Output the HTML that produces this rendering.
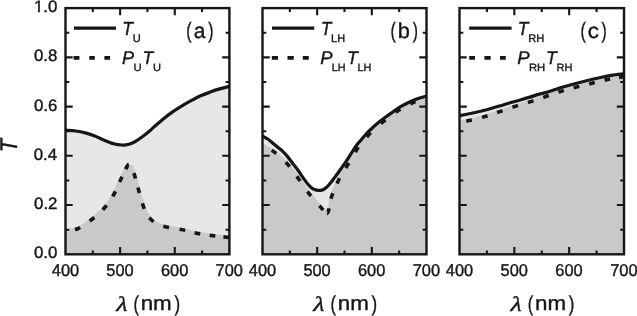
<!DOCTYPE html>
<html><head><meta charset="utf-8"><title>Transmission spectra</title>
<style>
html,body{margin:0;padding:0;background:#fff;}
svg{display:block;}
text{font-family:"Liberation Sans",Arial,sans-serif;fill:#161616;stroke:#161616;stroke-width:0.4;text-rendering:geometricPrecision;font-variant-ligatures:none;}
.it{font-style:italic;}
.lam{font-family:"Liberation Serif","Times New Roman",serif;font-style:italic;}
</style></head><body>
<svg width="637" height="316" viewBox="0 0 637 316">
<rect width="637" height="316" fill="#fff"/>
<path d="M65.50,130.20 C67.22,130.33 72.50,130.55 75.80,131.00 C79.10,131.45 82.13,132.05 85.30,132.90 C88.47,133.75 91.63,134.88 94.80,136.10 C97.97,137.32 101.13,138.93 104.30,140.20 C107.47,141.47 110.90,142.90 113.80,143.70 C116.70,144.50 119.33,144.87 121.70,145.00 C124.07,145.13 125.88,145.00 128.00,144.50 C130.12,144.00 132.02,143.30 134.40,142.00 C136.78,140.70 139.67,138.63 142.30,136.70 C144.93,134.77 148.13,132.13 150.20,130.40 C152.27,128.67 152.62,128.13 154.70,126.30 C156.78,124.47 159.78,121.77 162.70,119.40 C165.62,117.03 169.05,114.32 172.20,112.10 C175.35,109.88 178.45,108.00 181.60,106.10 C184.75,104.20 187.93,102.42 191.10,100.70 C194.27,98.98 197.43,97.23 200.60,95.80 C203.77,94.37 206.93,93.25 210.10,92.10 C213.27,90.95 216.38,89.85 219.60,88.90 C222.82,87.95 227.77,86.82 229.40,86.40 L229.40,254.3 L65.50,254.3 Z" fill="#e6e7e8"/>
<clipPath id="cp0"><path d="M65.50,130.20 C67.22,130.33 72.50,130.55 75.80,131.00 C79.10,131.45 82.13,132.05 85.30,132.90 C88.47,133.75 91.63,134.88 94.80,136.10 C97.97,137.32 101.13,138.93 104.30,140.20 C107.47,141.47 110.90,142.90 113.80,143.70 C116.70,144.50 119.33,144.87 121.70,145.00 C124.07,145.13 125.88,145.00 128.00,144.50 C130.12,144.00 132.02,143.30 134.40,142.00 C136.78,140.70 139.67,138.63 142.30,136.70 C144.93,134.77 148.13,132.13 150.20,130.40 C152.27,128.67 152.62,128.13 154.70,126.30 C156.78,124.47 159.78,121.77 162.70,119.40 C165.62,117.03 169.05,114.32 172.20,112.10 C175.35,109.88 178.45,108.00 181.60,106.10 C184.75,104.20 187.93,102.42 191.10,100.70 C194.27,98.98 197.43,97.23 200.60,95.80 C203.77,94.37 206.93,93.25 210.10,92.10 C213.27,90.95 216.38,89.85 219.60,88.90 C222.82,87.95 227.77,86.82 229.40,86.40 L229.40,254.3 L65.50,254.3 Z"/></clipPath>
<path d="M65.50,229.42 C66.29,229.31 68.67,229.01 70.23,228.73 C71.79,228.46 73.37,228.24 74.86,227.79 C76.36,227.33 77.77,226.72 79.18,226.00 C80.60,225.27 82.04,224.32 83.37,223.44 C84.70,222.56 85.87,221.70 87.19,220.73 C88.51,219.75 89.98,218.62 91.29,217.59 C92.60,216.55 93.83,215.56 95.05,214.52 C96.26,213.48 97.44,212.44 98.58,211.35 C99.72,210.26 100.82,209.16 101.89,207.99 C102.96,206.83 103.99,205.62 104.99,204.36 C105.99,203.10 106.97,201.77 107.90,200.44 C108.83,199.10 109.74,197.72 110.59,196.35 C111.44,194.98 112.25,193.65 113.01,192.22 C113.76,190.79 114.47,189.28 115.15,187.79 C115.83,186.31 116.40,184.86 117.08,183.31 C117.77,181.75 118.55,179.96 119.23,178.46 C119.91,176.95 120.47,175.74 121.17,174.27 C121.86,172.81 122.64,171.20 123.40,169.68 C124.15,168.17 124.24,165.94 125.70,165.17 C127.17,164.40 130.70,164.28 132.18,165.05 C133.67,165.83 133.90,168.19 134.59,169.83 C135.29,171.46 135.83,173.25 136.34,174.86 C136.85,176.46 137.21,177.88 137.64,179.44 C138.06,180.99 138.46,182.60 138.89,184.19 C139.31,185.78 139.74,187.38 140.19,189.00 C140.63,190.62 141.12,192.32 141.57,193.90 C142.02,195.48 142.41,196.92 142.87,198.47 C143.32,200.03 143.78,201.64 144.28,203.22 C144.79,204.79 145.31,206.42 145.90,207.93 C146.49,209.44 147.09,210.92 147.82,212.28 C148.55,213.64 149.32,214.93 150.27,216.09 C151.22,217.25 152.30,218.25 153.50,219.23 C154.69,220.21 156.09,221.20 157.44,221.97 C158.79,222.74 160.15,223.34 161.60,223.85 C163.04,224.36 164.54,224.70 166.11,225.06 C167.68,225.41 169.37,225.70 171.00,225.98 C172.62,226.27 174.22,226.49 175.85,226.76 C177.49,227.04 179.13,227.29 180.81,227.63 C182.50,227.96 184.35,228.40 185.96,228.78 C187.57,229.16 188.89,229.54 190.47,229.93 C192.06,230.32 193.86,230.78 195.45,231.12 C197.03,231.47 198.38,231.71 199.99,231.99 C201.60,232.27 203.48,232.56 205.12,232.80 C206.76,233.05 208.23,233.24 209.85,233.46 C211.47,233.68 213.15,233.90 214.84,234.11 C216.53,234.31 218.30,234.51 219.98,234.70 C221.67,234.89 223.43,235.07 224.96,235.24 C226.50,235.40 228.49,235.63 229.20,235.71 L229.40,254.3 L65.50,254.3 Z" fill="#c8c9cb" clip-path="url(#cp0)"/>
<path id="d0" d="M65.50,231.20 C67.62,230.75 73.72,230.53 78.20,228.50 C82.68,226.47 88.05,222.42 92.40,219.00 C96.75,215.58 100.73,212.08 104.30,208.00 C107.87,203.92 111.10,199.17 113.80,194.50 C116.50,189.83 118.63,184.00 120.50,180.00 C122.37,176.00 123.65,173.08 125.00,170.50 C126.35,167.92 127.52,165.00 128.60,164.50 C129.68,164.00 130.52,165.75 131.50,167.50 C132.48,169.25 133.32,171.25 134.50,175.00 C135.68,178.75 137.13,184.83 138.60,190.00 C140.07,195.17 141.90,201.92 143.30,206.00 C144.70,210.08 145.65,212.20 147.00,214.50 C148.35,216.80 149.57,218.17 151.40,219.80 C153.23,221.43 155.55,223.12 158.00,224.30 C160.45,225.48 162.18,226.02 166.10,226.90 C170.02,227.78 176.42,228.55 181.50,229.60 C186.58,230.65 191.47,232.20 196.60,233.20 C201.73,234.20 206.87,234.88 212.30,235.60 C217.73,236.32 226.38,237.18 229.20,237.50" fill="none" stroke="#161616" stroke-width="3.6" stroke-dasharray="0 9.64 5.8 11.26 5.8 11.53 5.8 10.73 5.8 10.08 5.8 8.51 5.8 10.45 5.8 8.93 5.8 10.44 5.8 10.61 5.8 10.99 5.8 10.36 5.8 9.73 5.8 9.56 5.8 7.86 5.8 1000"/>
<path d="M65.50,130.20 C67.22,130.33 72.50,130.55 75.80,131.00 C79.10,131.45 82.13,132.05 85.30,132.90 C88.47,133.75 91.63,134.88 94.80,136.10 C97.97,137.32 101.13,138.93 104.30,140.20 C107.47,141.47 110.90,142.90 113.80,143.70 C116.70,144.50 119.33,144.87 121.70,145.00 C124.07,145.13 125.88,145.00 128.00,144.50 C130.12,144.00 132.02,143.30 134.40,142.00 C136.78,140.70 139.67,138.63 142.30,136.70 C144.93,134.77 148.13,132.13 150.20,130.40 C152.27,128.67 152.62,128.13 154.70,126.30 C156.78,124.47 159.78,121.77 162.70,119.40 C165.62,117.03 169.05,114.32 172.20,112.10 C175.35,109.88 178.45,108.00 181.60,106.10 C184.75,104.20 187.93,102.42 191.10,100.70 C194.27,98.98 197.43,97.23 200.60,95.80 C203.77,94.37 206.93,93.25 210.10,92.10 C213.27,90.95 216.38,89.85 219.60,88.90 C222.82,87.95 227.77,86.82 229.40,86.40" fill="none" stroke="#161616" stroke-width="3.2"/>
<path d="M92.82,254.3v-3.8M92.82,8.1v3.8M120.13,254.3v-7.2M120.13,8.1v7.2M147.45,254.3v-3.8M147.45,8.1v3.8M174.77,254.3v-7.2M174.77,8.1v7.2M202.08,254.3v-3.8M202.08,8.1v3.8M65.50,229.68h3.8M229.40,229.68h-3.8M65.50,205.06h7.2M229.40,205.06h-7.2M65.50,180.44h3.8M229.40,180.44h-3.8M65.50,155.82h7.2M229.40,155.82h-7.2M65.50,131.20h3.8M229.40,131.20h-3.8M65.50,106.58h7.2M229.40,106.58h-7.2M65.50,81.96h3.8M229.40,81.96h-3.8M65.50,57.34h7.2M229.40,57.34h-7.2M65.50,32.72h3.8M229.40,32.72h-3.8" fill="none" stroke="#161616" stroke-width="2.1"/>
<rect x="65.50" y="8.1" width="163.90" height="246.20" fill="none" stroke="#161616" stroke-width="2.4"/>
<path d="M262.50,136.00 C263.37,136.50 266.20,138.00 267.70,139.00 C269.20,140.00 269.67,140.50 271.50,142.00 C273.33,143.50 276.97,146.57 278.70,148.00 C280.43,149.43 280.42,149.17 281.90,150.60 C283.38,152.03 285.70,154.33 287.60,156.60 C289.50,158.87 291.60,161.97 293.30,164.20 C295.00,166.43 296.42,168.08 297.80,170.00 C299.18,171.92 300.33,173.88 301.60,175.70 C302.87,177.52 304.13,179.23 305.40,180.90 C306.67,182.57 307.93,184.38 309.20,185.70 C310.47,187.02 311.73,188.07 313.00,188.80 C314.27,189.53 315.60,189.83 316.80,190.10 C318.00,190.37 319.08,190.50 320.20,190.40 C321.32,190.30 322.32,190.13 323.50,189.50 C324.68,188.87 326.03,187.80 327.30,186.60 C328.57,185.40 329.83,183.88 331.10,182.30 C332.37,180.72 333.63,178.82 334.90,177.10 C336.17,175.38 336.75,174.74 338.70,172.01 C340.65,169.28 344.42,163.96 346.60,160.71 C348.78,157.46 349.98,155.29 351.80,152.50 C353.62,149.71 356.07,145.95 357.50,143.99 C358.93,142.03 358.97,142.40 360.40,140.74 C361.83,139.07 364.03,136.22 366.10,134.01 C368.17,131.80 370.58,129.52 372.80,127.49 C375.02,125.46 377.20,123.61 379.40,121.83 C381.60,120.05 383.82,118.42 386.00,116.82 C388.18,115.21 390.33,113.72 392.50,112.18 C394.67,110.64 396.82,108.95 399.00,107.58 C401.18,106.21 403.38,105.11 405.60,103.97 C407.82,102.83 410.08,101.73 412.30,100.76 C414.52,99.79 416.53,98.92 418.90,98.15 C421.27,97.37 425.23,96.44 426.50,96.10 L426.50,254.3 L262.50,254.3 Z" fill="#e6e7e8"/>
<clipPath id="cp1"><path d="M262.50,136.00 C263.37,136.50 266.20,138.00 267.70,139.00 C269.20,140.00 269.67,140.50 271.50,142.00 C273.33,143.50 276.97,146.57 278.70,148.00 C280.43,149.43 280.42,149.17 281.90,150.60 C283.38,152.03 285.70,154.33 287.60,156.60 C289.50,158.87 291.60,161.97 293.30,164.20 C295.00,166.43 296.42,168.08 297.80,170.00 C299.18,171.92 300.33,173.88 301.60,175.70 C302.87,177.52 304.13,179.23 305.40,180.90 C306.67,182.57 307.93,184.38 309.20,185.70 C310.47,187.02 311.73,188.07 313.00,188.80 C314.27,189.53 315.60,189.83 316.80,190.10 C318.00,190.37 319.08,190.50 320.20,190.40 C321.32,190.30 322.32,190.13 323.50,189.50 C324.68,188.87 326.03,187.80 327.30,186.60 C328.57,185.40 329.83,183.88 331.10,182.30 C332.37,180.72 333.63,178.82 334.90,177.10 C336.17,175.38 336.75,174.74 338.70,172.01 C340.65,169.28 344.42,163.96 346.60,160.71 C348.78,157.46 349.98,155.29 351.80,152.50 C353.62,149.71 356.07,145.95 357.50,143.99 C358.93,142.03 358.97,142.40 360.40,140.74 C361.83,139.07 364.03,136.22 366.10,134.01 C368.17,131.80 370.58,129.52 372.80,127.49 C375.02,125.46 377.20,123.61 379.40,121.83 C381.60,120.05 383.82,118.42 386.00,116.82 C388.18,115.21 390.33,113.72 392.50,112.18 C394.67,110.64 396.82,108.95 399.00,107.58 C401.18,106.21 403.38,105.11 405.60,103.97 C407.82,102.83 410.08,101.73 412.30,100.76 C414.52,99.79 416.53,98.92 418.90,98.15 C421.27,97.37 425.23,96.44 426.50,96.10 L426.50,254.3 L262.50,254.3 Z"/></clipPath>
<path d="M262.50,143.30 C263.50,143.85 266.33,145.33 268.50,146.60 C270.67,147.87 272.07,148.13 275.50,150.90 C278.93,153.67 285.02,158.77 289.10,163.20 C293.18,167.63 296.40,172.60 300.00,177.50 C303.60,182.40 306.95,187.75 310.70,192.60 C314.45,197.45 319.80,203.60 322.50,206.60 C325.20,209.60 325.93,210.62 326.90,210.60 C327.87,210.58 327.77,209.02 328.30,206.50 C328.83,203.98 328.36,200.64 330.10,195.50 C331.84,190.36 336.55,180.17 338.76,175.65 C340.98,171.12 341.82,170.84 343.37,168.36 C344.92,165.88 346.49,163.36 348.07,160.76 C349.64,158.16 351.22,155.38 352.82,152.76 C354.42,150.15 355.89,147.54 357.68,145.08 C359.47,142.63 361.59,140.27 363.54,138.01 C365.48,135.76 367.20,133.72 369.35,131.55 C371.51,129.38 374.15,126.99 376.46,124.98 C378.77,122.97 380.77,121.40 383.23,119.49 C385.68,117.58 388.72,115.37 391.18,113.53 C393.65,111.69 395.53,110.06 398.02,108.45 C400.51,106.85 403.63,105.22 406.13,103.92 C408.64,102.62 410.73,101.65 413.04,100.65 C415.34,99.66 417.72,98.82 419.96,97.97 C422.21,97.13 425.41,96.00 426.50,95.60 L426.50,254.3 L262.50,254.3 Z" fill="#c8c9cb" clip-path="url(#cp1)"/>
<path id="d1" d="M262.50,145.00 C264.43,146.15 269.90,148.67 274.10,151.90 C278.30,155.13 283.63,159.93 287.70,164.40 C291.77,168.87 294.92,173.80 298.50,178.70 C302.08,183.60 305.43,188.98 309.20,193.80 C312.97,198.62 318.20,204.37 321.10,207.60 C324.00,210.83 325.35,212.72 326.60,213.20 C327.85,213.68 327.73,213.37 328.60,210.50 C329.47,207.63 329.87,201.63 331.80,196.00 C333.73,190.37 338.03,181.16 340.20,176.73 C342.38,172.29 343.28,171.89 344.84,169.39 C346.40,166.90 347.99,164.37 349.57,161.76 C351.15,159.15 352.73,156.35 354.33,153.75 C355.93,151.14 357.38,148.55 359.15,146.12 C360.92,143.69 363.02,141.37 364.93,139.16 C366.84,136.94 368.49,134.97 370.61,132.84 C372.73,130.70 375.35,128.33 377.63,126.35 C379.91,124.36 381.88,122.82 384.31,120.93 C386.74,119.04 389.77,116.83 392.22,115.00 C394.67,113.17 396.57,111.53 399.03,109.95 C401.48,108.37 404.50,106.80 406.95,105.53 C409.41,104.25 411.51,103.28 413.76,102.30 C416.01,101.33 418.34,100.55 420.46,99.65 C422.58,98.75 425.49,97.36 426.50,96.90" fill="none" stroke="#161616" stroke-width="3.6" stroke-dasharray="0 10.61 5.8 12.69 5.8 12.13 5.8 12.71 5.8 12.43 5.8 5.3 5.8 9.88 5.8 10.35 5.8 12.23 5.8 12.58 5.8 13.35 5.8 13.75 5.8 12.64 5.8 11.02 5.8 1000"/>
<path d="M262.50,136.00 C263.37,136.50 266.20,138.00 267.70,139.00 C269.20,140.00 269.67,140.50 271.50,142.00 C273.33,143.50 276.97,146.57 278.70,148.00 C280.43,149.43 280.42,149.17 281.90,150.60 C283.38,152.03 285.70,154.33 287.60,156.60 C289.50,158.87 291.60,161.97 293.30,164.20 C295.00,166.43 296.42,168.08 297.80,170.00 C299.18,171.92 300.33,173.88 301.60,175.70 C302.87,177.52 304.13,179.23 305.40,180.90 C306.67,182.57 307.93,184.38 309.20,185.70 C310.47,187.02 311.73,188.07 313.00,188.80 C314.27,189.53 315.60,189.83 316.80,190.10 C318.00,190.37 319.08,190.50 320.20,190.40 C321.32,190.30 322.32,190.13 323.50,189.50 C324.68,188.87 326.03,187.80 327.30,186.60 C328.57,185.40 329.83,183.88 331.10,182.30 C332.37,180.72 333.63,178.82 334.90,177.10 C336.17,175.38 336.75,174.74 338.70,172.01 C340.65,169.28 344.42,163.96 346.60,160.71 C348.78,157.46 349.98,155.29 351.80,152.50 C353.62,149.71 356.07,145.95 357.50,143.99 C358.93,142.03 358.97,142.40 360.40,140.74 C361.83,139.07 364.03,136.22 366.10,134.01 C368.17,131.80 370.58,129.52 372.80,127.49 C375.02,125.46 377.20,123.61 379.40,121.83 C381.60,120.05 383.82,118.42 386.00,116.82 C388.18,115.21 390.33,113.72 392.50,112.18 C394.67,110.64 396.82,108.95 399.00,107.58 C401.18,106.21 403.38,105.11 405.60,103.97 C407.82,102.83 410.08,101.73 412.30,100.76 C414.52,99.79 416.53,98.92 418.90,98.15 C421.27,97.37 425.23,96.44 426.50,96.10" fill="none" stroke="#161616" stroke-width="3.2"/>
<path d="M289.83,254.3v-3.8M289.83,8.1v3.8M317.17,254.3v-7.2M317.17,8.1v7.2M344.50,254.3v-3.8M344.50,8.1v3.8M371.83,254.3v-7.2M371.83,8.1v7.2M399.17,254.3v-3.8M399.17,8.1v3.8M262.50,229.68h3.8M426.50,229.68h-3.8M262.50,205.06h7.2M426.50,205.06h-7.2M262.50,180.44h3.8M426.50,180.44h-3.8M262.50,155.82h7.2M426.50,155.82h-7.2M262.50,131.20h3.8M426.50,131.20h-3.8M262.50,106.58h7.2M426.50,106.58h-7.2M262.50,81.96h3.8M426.50,81.96h-3.8M262.50,57.34h7.2M426.50,57.34h-7.2M262.50,32.72h3.8M426.50,32.72h-3.8" fill="none" stroke="#161616" stroke-width="2.1"/>
<rect x="262.50" y="8.1" width="164.00" height="246.20" fill="none" stroke="#161616" stroke-width="2.4"/>
<path d="M459.50,115.70 C461.35,115.34 466.92,114.29 470.60,113.51 C474.28,112.73 478.18,111.84 481.60,111.00 C485.02,110.16 487.40,109.55 491.10,108.50 C494.80,107.45 499.57,105.95 503.80,104.70 C508.03,103.45 512.28,102.22 516.50,101.00 C520.72,99.78 525.42,98.50 529.10,97.40 C532.78,96.30 535.50,95.29 538.60,94.40 C541.70,93.51 544.08,93.18 547.70,92.08 C551.32,90.98 556.08,89.11 560.30,87.80 C564.52,86.49 568.78,85.33 573.00,84.20 C577.22,83.07 581.38,82.03 585.60,80.99 C589.82,79.96 594.08,78.94 598.30,77.99 C602.52,77.05 606.62,75.98 610.90,75.30 C615.18,74.62 621.82,74.13 624.00,73.90 L624.00,254.3 L459.50,254.3 Z" fill="#e6e7e8"/>
<clipPath id="cp2"><path d="M459.50,115.70 C461.35,115.34 466.92,114.29 470.60,113.51 C474.28,112.73 478.18,111.84 481.60,111.00 C485.02,110.16 487.40,109.55 491.10,108.50 C494.80,107.45 499.57,105.95 503.80,104.70 C508.03,103.45 512.28,102.22 516.50,101.00 C520.72,99.78 525.42,98.50 529.10,97.40 C532.78,96.30 535.50,95.29 538.60,94.40 C541.70,93.51 544.08,93.18 547.70,92.08 C551.32,90.98 556.08,89.11 560.30,87.80 C564.52,86.49 568.78,85.33 573.00,84.20 C577.22,83.07 581.38,82.03 585.60,80.99 C589.82,79.96 594.08,78.94 598.30,77.99 C602.52,77.05 606.62,75.98 610.90,75.30 C615.18,74.62 621.82,74.13 624.00,73.90 L624.00,254.3 L459.50,254.3 Z"/></clipPath>
<path d="M459.50,120.73 C460.28,120.58 462.53,120.16 464.16,119.83 C465.80,119.50 467.66,119.12 469.32,118.75 C470.99,118.37 472.54,117.98 474.15,117.58 C475.77,117.18 477.39,116.77 479.00,116.35 C480.60,115.92 482.24,115.47 483.78,115.02 C485.33,114.57 486.70,114.14 488.27,113.63 C489.84,113.12 491.55,112.53 493.21,111.96 C494.87,111.39 496.61,110.78 498.21,110.24 C499.81,109.69 501.25,109.21 502.78,108.69 C504.31,108.17 505.86,107.63 507.40,107.11 C508.95,106.58 510.42,106.08 512.06,105.54 C513.70,105.00 515.60,104.38 517.24,103.86 C518.89,103.34 520.36,102.90 521.91,102.43 C523.47,101.95 524.94,101.52 526.56,101.01 C528.19,100.51 530.07,99.91 531.68,99.39 C533.30,98.87 534.75,98.39 536.28,97.88 C537.81,97.38 539.25,96.89 540.85,96.35 C542.46,95.81 544.32,95.18 545.92,94.63 C547.51,94.07 548.83,93.59 550.42,93.01 C552.01,92.44 553.85,91.75 555.45,91.19 C557.06,90.63 558.42,90.15 560.05,89.64 C561.68,89.13 563.59,88.59 565.22,88.14 C566.86,87.69 568.33,87.32 569.87,86.92 C571.42,86.53 572.88,86.17 574.51,85.75 C576.14,85.34 578.03,84.85 579.66,84.43 C581.30,84.01 582.68,83.66 584.32,83.25 C585.96,82.84 587.87,82.37 589.50,81.96 C591.14,81.56 592.51,81.22 594.14,80.82 C595.76,80.41 597.63,79.94 599.26,79.55 C600.89,79.15 602.34,78.80 603.94,78.44 C605.53,78.08 607.18,77.72 608.83,77.39 C610.49,77.06 612.20,76.75 613.86,76.45 C615.52,76.15 617.12,75.86 618.81,75.58 C620.50,75.29 623.14,74.87 624.00,74.73 L624.00,254.3 L459.50,254.3 Z" fill="#c8c9cb" clip-path="url(#cp2)"/>
<path id="d2" d="M459.50,122.50 C461.13,122.18 465.08,121.58 469.30,120.60 C473.52,119.62 479.72,118.10 484.80,116.60 C489.88,115.10 494.73,113.30 499.80,111.60 C504.87,109.90 510.05,108.07 515.20,106.40 C520.35,104.73 525.57,103.25 530.70,101.60 C535.83,99.95 540.93,98.23 546.00,96.50 C551.07,94.77 556.02,92.77 561.10,91.20 C566.18,89.63 571.35,88.43 576.50,87.10 C581.65,85.77 586.83,84.47 592.00,83.20 C597.17,81.93 602.17,80.62 607.50,79.50 C612.83,78.38 621.25,77.00 624.00,76.50" fill="none" stroke="#161616" stroke-width="3.6" stroke-dasharray="0 7.08 5.8 10.21 5.8 10.01 5.8 10.45 5.8 10.43 5.8 10.33 5.8 10.2 5.8 10.14 5.8 10.18 5.8 10.14 5.8 8.68 5.8 1000"/>
<path d="M459.50,115.70 C461.35,115.34 466.92,114.29 470.60,113.51 C474.28,112.73 478.18,111.84 481.60,111.00 C485.02,110.16 487.40,109.55 491.10,108.50 C494.80,107.45 499.57,105.95 503.80,104.70 C508.03,103.45 512.28,102.22 516.50,101.00 C520.72,99.78 525.42,98.50 529.10,97.40 C532.78,96.30 535.50,95.29 538.60,94.40 C541.70,93.51 544.08,93.18 547.70,92.08 C551.32,90.98 556.08,89.11 560.30,87.80 C564.52,86.49 568.78,85.33 573.00,84.20 C577.22,83.07 581.38,82.03 585.60,80.99 C589.82,79.96 594.08,78.94 598.30,77.99 C602.52,77.05 606.62,75.98 610.90,75.30 C615.18,74.62 621.82,74.13 624.00,73.90" fill="none" stroke="#161616" stroke-width="3.2"/>
<path d="M486.92,254.3v-3.8M486.92,8.1v3.8M514.33,254.3v-7.2M514.33,8.1v7.2M541.75,254.3v-3.8M541.75,8.1v3.8M569.17,254.3v-7.2M569.17,8.1v7.2M596.58,254.3v-3.8M596.58,8.1v3.8M459.50,229.68h3.8M624.00,229.68h-3.8M459.50,205.06h7.2M624.00,205.06h-7.2M459.50,180.44h3.8M624.00,180.44h-3.8M459.50,155.82h7.2M624.00,155.82h-7.2M459.50,131.20h3.8M624.00,131.20h-3.8M459.50,106.58h7.2M624.00,106.58h-7.2M459.50,81.96h3.8M624.00,81.96h-3.8M459.50,57.34h7.2M624.00,57.34h-7.2M459.50,32.72h3.8M624.00,32.72h-3.8" fill="none" stroke="#161616" stroke-width="2.1"/>
<rect x="459.50" y="8.1" width="164.50" height="246.20" fill="none" stroke="#161616" stroke-width="2.4"/>
<path d="M73.9,28.2H116.0" stroke="#161616" stroke-width="3.3"/>
<path d="M73.6,57.9H79.4M89.3,57.9H94.8M104.4,57.9H110.1" stroke="#161616" stroke-width="3.6"/>
<path d="M272.0,28.2H314.3" stroke="#161616" stroke-width="3.3"/>
<path d="M271.8,57.9H278M287.5,57.9H293.8M302.8,57.9H308.8" stroke="#161616" stroke-width="3.6"/>
<path d="M469.2,28.2H511.6" stroke="#161616" stroke-width="3.3"/>
<path d="M469.2,57.9H475M484.4,57.9H490.7M500.0,57.9H505.8" stroke="#161616" stroke-width="3.6"/>
<text transform="translate(33.90,258.24) scale(0.990,0.970)" font-size="17">0.0</text>
<text transform="translate(34.03,209.00) scale(0.990,0.970)" font-size="17">0.2</text>
<text transform="translate(33.66,159.76) scale(0.990,0.970)" font-size="17">0.4</text>
<text transform="translate(33.90,110.52) scale(0.990,0.970)" font-size="17">0.6</text>
<text transform="translate(33.90,61.28) scale(0.990,0.970)" font-size="17">0.8</text>
<text transform="translate(33.90,12.04) scale(0.990,0.970)" font-size="17">1.0</text>
<path transform="translate(33.90,12.04) scale(0.990,0.970)" d="M0.4,-2.3H4.02V1.4H0.4Z M6.03,-2.3H9.5V1.4H6.03Z" fill="#fff"/>
<text transform="translate(51.86,275.52) scale(0.963,1.002)" font-size="17">400</text>
<text transform="translate(106.37,275.52) scale(0.963,1.002)" font-size="17">500</text>
<text transform="translate(160.95,275.52) scale(0.963,1.002)" font-size="17">600</text>
<text transform="translate(215.58,275.52) scale(0.963,1.002)" font-size="17">700</text>
<text transform="translate(116.25,311.30) scale(1.205,0.995) skewX(-3)" class="lam" font-size="21" stroke-width="0.1">λ</text>
<text transform="translate(133.47,310.51) scale(0.729,0.958)" font-size="22.3" stroke-width="0.7">(</text>
<text transform="translate(140.65,310.47) scale(1.004,0.912)" font-size="22.3" stroke-width="0.5">nm</text>
<text transform="translate(174.57,310.51) scale(0.757,0.958)" font-size="22.3" stroke-width="0.7">)</text>
<text transform="translate(248.86,275.52) scale(0.963,1.002)" font-size="17">400</text>
<text transform="translate(303.41,275.52) scale(0.963,1.002)" font-size="17">500</text>
<text transform="translate(358.01,275.52) scale(0.963,1.002)" font-size="17">600</text>
<text transform="translate(412.68,275.52) scale(0.963,1.002)" font-size="17">700</text>
<text transform="translate(313.30,311.30) scale(1.205,0.995) skewX(-3)" class="lam" font-size="21" stroke-width="0.1">λ</text>
<text transform="translate(330.52,310.51) scale(0.729,0.958)" font-size="22.3" stroke-width="0.7">(</text>
<text transform="translate(337.70,310.47) scale(1.004,0.912)" font-size="22.3" stroke-width="0.5">nm</text>
<text transform="translate(371.62,310.51) scale(0.757,0.958)" font-size="22.3" stroke-width="0.7">)</text>
<text transform="translate(445.86,275.52) scale(0.963,1.002)" font-size="17">400</text>
<text transform="translate(500.57,275.52) scale(0.963,1.002)" font-size="17">500</text>
<text transform="translate(555.35,275.52) scale(0.963,1.002)" font-size="17">600</text>
<text transform="translate(610.18,275.52) scale(0.963,1.002)" font-size="17">700</text>
<text transform="translate(510.55,311.30) scale(1.205,0.995) skewX(-3)" class="lam" font-size="21" stroke-width="0.1">λ</text>
<text transform="translate(527.77,310.51) scale(0.729,0.958)" font-size="22.3" stroke-width="0.7">(</text>
<text transform="translate(534.95,310.47) scale(1.004,0.912)" font-size="22.3" stroke-width="0.5">nm</text>
<text transform="translate(568.87,310.51) scale(0.757,0.958)" font-size="22.3" stroke-width="0.7">)</text>
<text transform="translate(16.70,152.26) scale(1.071,0.959) rotate(-90)" class="it" font-size="22.5" stroke-width="0.75">T</text>
<text transform="translate(122.22,34.68) scale(0.922,0.994)" class="it" font-size="19">T</text>
<text transform="translate(132.71,42.17) scale(0.924,0.914)" font-size="12">U</text>
<text transform="translate(122.04,63.98) scale(0.954,0.957)" class="it" font-size="19">P</text>
<text transform="translate(133.40,71.18) scale(0.938,0.891)" font-size="12">U</text>
<text transform="translate(142.52,63.98) scale(0.922,0.957)" class="it" font-size="19">T</text>
<text transform="translate(152.91,71.18) scale(0.924,0.891)" font-size="12">U</text>
<text transform="translate(321.06,34.68) scale(0.896,0.994)" class="it" font-size="19">T</text>
<text transform="translate(331.12,42.09) scale(0.908,0.904)" font-size="12">LH</text>
<text transform="translate(320.34,63.98) scale(0.970,0.957)" class="it" font-size="19">P</text>
<text transform="translate(331.82,71.29) scale(0.901,0.881)" font-size="12">LH</text>
<text transform="translate(346.90,63.98) scale(0.930,0.957)" class="it" font-size="19">T</text>
<text transform="translate(357.52,71.29) scale(0.901,0.881)" font-size="12">LH</text>
<text transform="translate(517.82,34.68) scale(0.922,0.994)" class="it" font-size="19">T</text>
<text transform="translate(528.20,42.09) scale(0.927,0.904)" font-size="12">RH</text>
<text transform="translate(517.33,63.98) scale(0.978,0.957)" class="it" font-size="19">P</text>
<text transform="translate(528.90,71.29) scale(0.940,0.881)" font-size="12">RH</text>
<text transform="translate(545.90,63.98) scale(0.930,0.957)" class="it" font-size="19">T</text>
<text transform="translate(556.51,71.29) scale(0.921,0.881)" font-size="12">RH</text>
<text transform="translate(186.34,38.03) scale(0.676,0.946)" font-size="23.5" stroke-width="0.7">(</text>
<text transform="translate(193.63,37.84) scale(0.896,0.912)" font-size="23.5" stroke-width="0.45">a</text>
<text transform="translate(208.32,38.03) scale(0.664,0.946)" font-size="23.5" stroke-width="0.7">)</text>
<text transform="translate(390.54,38.03) scale(0.676,0.946)" font-size="23.5" stroke-width="0.7">(</text>
<text transform="translate(397.84,37.84) scale(0.927,0.913)" font-size="23.5" stroke-width="0.45">b</text>
<text transform="translate(412.72,38.03) scale(0.664,0.946)" font-size="23.5" stroke-width="0.7">)</text>
<text transform="translate(580.54,38.03) scale(0.676,0.946)" font-size="23.5" stroke-width="0.7">(</text>
<text transform="translate(587.79,37.84) scale(0.951,0.912)" font-size="23.5" stroke-width="0.45">c</text>
<text transform="translate(601.42,38.03) scale(0.664,0.946)" font-size="23.5" stroke-width="0.7">)</text>
</svg>
</body></html>
